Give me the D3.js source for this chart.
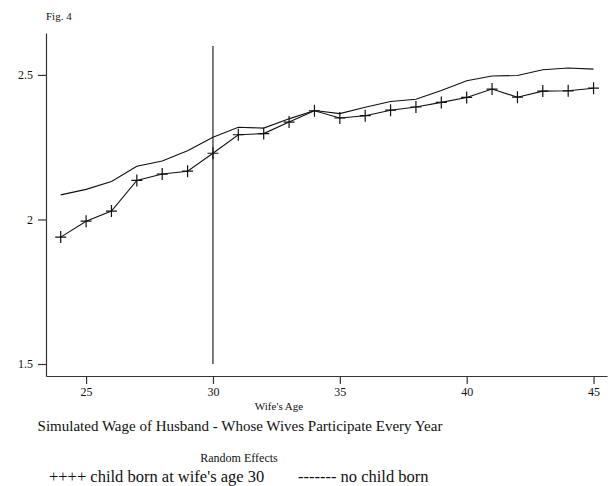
<!DOCTYPE html>
<html>
<head>
<meta charset="utf-8">
<script src="https://cdn.jsdelivr.net/npm/d3@7"></script>
<style>
  body { margin: 0; background: #fff; }
  svg text { font-family: "Liberation Serif", "Times New Roman", serif; fill: #111; }
</style>
</head>
<body>
<script>
// wife's age
const ages = [24, 25, 26, 27, 28, 29, 30, 31, 32, 33, 34, 35, 36, 37, 38, 39, 40, 41, 42, 43, 44, 45];
// child born at wife's age 30 (+ markers)
const childBorn = [1.939, 1.994, 2.029, 2.135, 2.157, 2.167, 2.229, 2.293, 2.297, 2.337, 2.376,
  2.351, 2.359, 2.378, 2.389, 2.405, 2.422, 2.451, 2.423, 2.444, 2.445, 2.454];
// no child born
const noChild = [2.085, 2.104, 2.131, 2.184, 2.202, 2.238, 2.284, 2.319, 2.316, 2.348, 2.377,
  2.366, 2.388, 2.408, 2.416, 2.446, 2.480, 2.496, 2.498, 2.518, 2.524, 2.520];
const xTicks = [25, 30, 35, 40, 45];
const yTicks = [1.5, 2, 2.5];
const birthAge = 30;
const birthLineTop = 2.6;

const W = 613, H = 486;
const serif = "'Liberation Serif', 'Times New Roman', serif";

const svg = d3.select("body").append("svg")
    .attr("width", W)
    .attr("height", H);

const x = d3.scaleLinear().domain([23.42, 45.53]).range([46, 607]);
const y = d3.scaleLinear().domain([1.4585, 2.645]).range([376, 33]);

//**** AXES
const xAxis_g = svg.append("g")
    .attr("transform", "translate(0," + 376 + ")")
    .call(d3.axisBottom(x).tickValues(xTicks).tickSize(8).tickSizeOuter(0).tickPadding(3));

const yAxis_g = svg.append("g")
    .attr("transform", "translate(" + 46 + ",0)")
    .call(d3.axisLeft(y).tickValues(yTicks).tickSize(8).tickSizeOuter(0).tickPadding(5)
        .tickFormat(d => String(d)));

xAxis_g.attr("font-family", serif).attr("font-size", 12);
yAxis_g.attr("font-family", serif).attr("font-size", 12);
svg.selectAll(".domain, .tick line").attr("stroke", "#333").attr("stroke-width", 1.2);
svg.selectAll(".tick text").attr("fill", "#111");

//**** BIRTH LINE
svg.append("line")
    .attr("x1", x(birthAge)).attr("x2", x(birthAge))
    .attr("y1", y(1.5)).attr("y2", y(birthLineTop))
    .attr("stroke", "#111").attr("stroke-width", 1.1);

//**** LINES
const line = d3.line().x((d, i) => x(ages[i])).y(d => y(d));

svg.append("path").datum(noChild)
    .attr("d", line).attr("fill", "none")
    .attr("stroke", "#111").attr("stroke-width", 1.1);

svg.append("path").datum(childBorn)
    .attr("d", line).attr("fill", "none")
    .attr("stroke", "#111").attr("stroke-width", 1.1);

// plus markers
svg.append("g").selectAll("path")
    .data(childBorn)
    .join("path")
    .attr("d", (d, i) => {
        const cx = x(ages[i]), cy = y(d);
        return "M" + (cx - 5.5) + "," + cy + "H" + (cx + 5.5) + "M" + cx + "," + (cy - 6) + "V" + (cy + 6);
    })
    .attr("stroke", "#111").attr("stroke-width", 1.2);

//**** LABELS
svg.append("text").attr("x", 46).attr("y", 20).style("font-size", "11px").text("Fig. 4");

svg.append("text").attr("x", 279).attr("y", 410).attr("text-anchor", "middle")
    .style("font-size", "11px").text("Wife's Age");

svg.append("text").attr("x", 240).attr("y", 431).attr("text-anchor", "middle")
    .style("font-size", "15px").text("Simulated Wage of Husband - Whose Wives Participate Every Year");

svg.append("text").attr("x", 239).attr("y", 462).attr("text-anchor", "middle")
    .style("font-size", "12px").text("Random Effects");

svg.append("text").attr("x", 49).attr("y", 482)
    .style("font-size", "16.5px").text("++++ child born at wife's age 30");

svg.append("text").attr("x", 298).attr("y", 482)
    .style("font-size", "16.5px").text("------- no child born");
</script>
</body>
</html>
